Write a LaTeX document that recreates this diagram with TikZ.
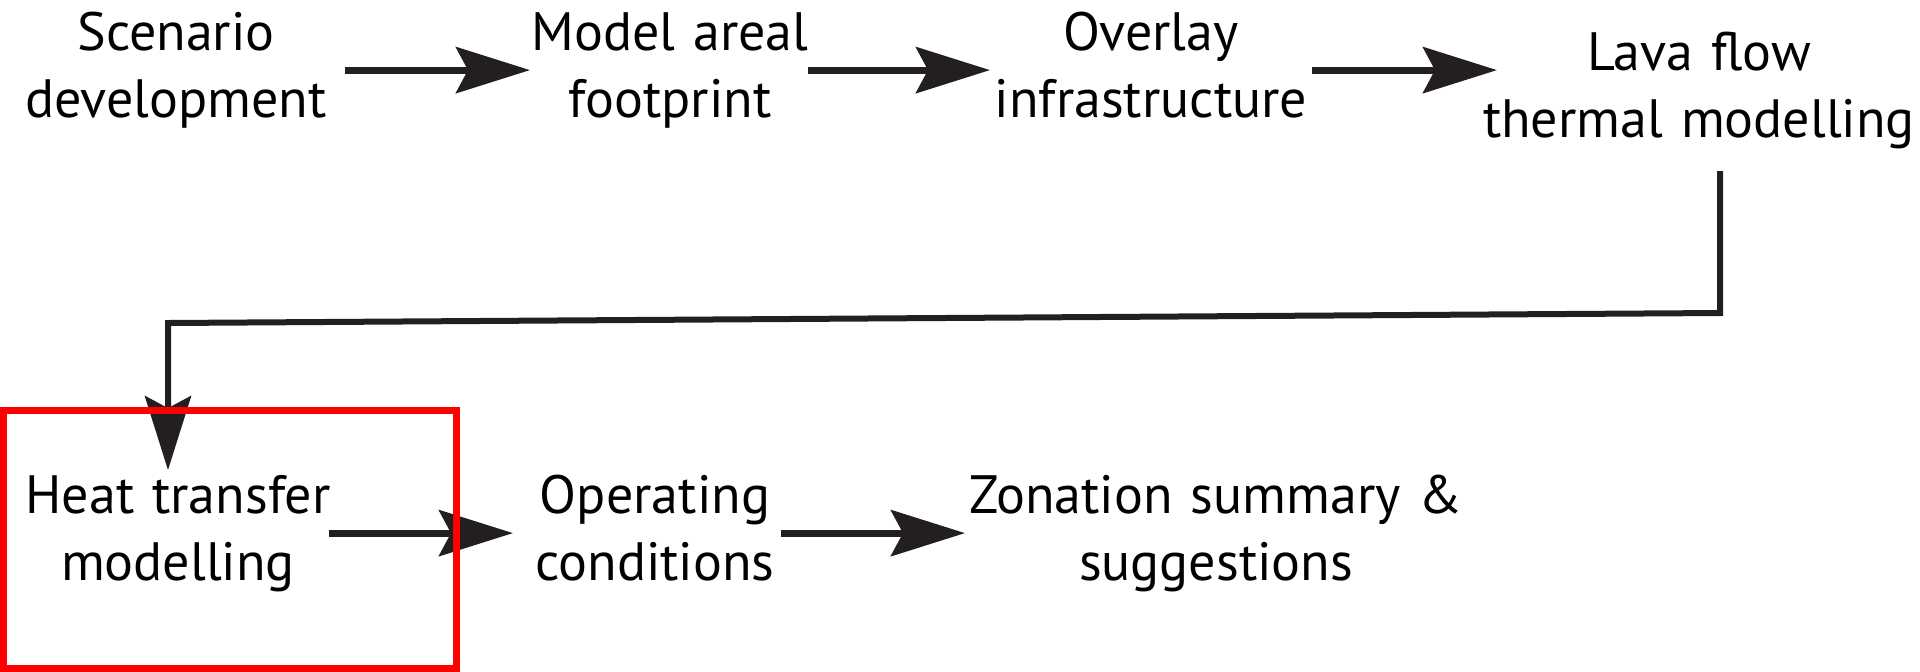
\documentclass[tikz,border=0pt]{standalone}
\usepackage{fontspec}
\setmainfont{PT Sans}
\usetikzlibrary{arrows.meta}
\definecolor{ink}{HTML}{231F20}
\definecolor{hlred}{HTML}{FF0000}
\tikzset{
  lbl/.style={inner sep=0pt, outer sep=0pt, align=center, font=\fontsize{27}{33.5}\selectfont},
  tipstyle/.style={-{Stealth[length=37pt,width=23pt,inset=6pt]}},
  arr/.style={draw=ink, line width=3.5pt, tipstyle},
  conn/.style={draw=ink, line width=3pt, tipstyle, line join=miter},
  hlbox/.style={draw=hlred, line width=3.5pt, inner sep=0pt, outer sep=0pt}
}
\begin{document}
\begin{tikzpicture}[x=0.5pt,y=-0.5pt]
\useasboundingbox (0,0) rectangle (1920,671);
% nodes
\node[lbl, text width=170pt] (n1) at (176,70.1) {\strut Scenario\\\strut development};
\node[lbl, text width=150pt] (n2) at (670,70.1) {\strut Model areal\\\strut footprint};
\node[lbl, text width=170pt] (n3) at (1151,70.1) {\strut Overlay\\\strut infrastructure};
\node[lbl, text width=220pt] (n4) at (1699,90.1) {\strut Lava flow\\\strut thermal modelling};
\node[lbl, text width=165pt] (n5) at (178,533.1) {\strut Heat transfer\\\strut modelling};
\node[lbl, text width=135pt] (n6) at (655,533.1) {\strut Operating\\\strut conditions};
\node[lbl, text width=260pt] (n7) at (1216,533.1) {\strut Zonation summary \&\\\strut suggestions};
% bend points of the long connector
\coordinate (k1) at (1720,313);
\coordinate (k2) at (168,323);
% arrows
\draw[arr, shorten <=-0.5pt, shorten >=-5pt] (n1.east) -- (n2.west);
\draw[arr, shorten <=-6pt, shorten >=-4.5pt] (n2.east) -- (n3.west);
\draw[arr, shorten <=-4.5pt, shorten >=-9pt] (n3.east) -- (n4.west |- n3.east);
\draw[conn, shorten <=7pt, shorten >=-2pt] (n4.south -| k1) -- (k1) -- (k2) -- (n5.north -| k2);
\draw[arr, shorten <=-7pt, shorten >=3.5pt] (n5.east) -- (n6.west);
\draw[arr, shorten <=-4.5pt, shorten >=-4.5pt] (n6.east) -- (n7.west);
% highlight box
\node[hlbox, minimum width=226.5pt, minimum height=129pt] (hl) at (229.5,539) {};
\end{tikzpicture}
\end{document}
